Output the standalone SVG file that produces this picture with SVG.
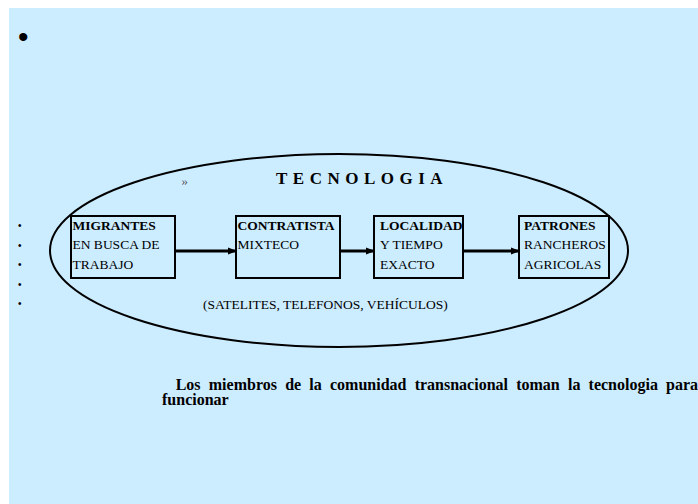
<svg xmlns="http://www.w3.org/2000/svg" width="698" height="504" viewBox="0 0 698 504">
<defs>
<style>
.bg{fill:#CCECFF}
.t{font-family:"Liberation Serif","Times New Roman",serif;fill:#000}
.b{font-weight:bold}
.box{fill:none;stroke:#000;stroke-width:2}
.lbl{font-size:13.5px}
.bul{font-family:"Liberation Sans",Arial,sans-serif;fill:#000}
.conn{stroke:#000;stroke-width:3;fill:none}
</style>
<marker id="ah" markerWidth="9" markerHeight="8" refX="8" refY="4" orient="auto" markerUnits="userSpaceOnUse">
<path d="M0,0.5 L9,4 L0,7.5 Z" fill="#000"/>
</marker>
</defs>
<rect class="bg" x="9" y="8" width="689" height="496"/>
<text class="bul" x="18" y="47" font-size="30">•</text>
<g class="bul" font-size="10">
<text x="18" y="229">•</text>
<text x="18" y="249">•</text>
<text x="18" y="268">•</text>
<text x="18" y="288">•</text>
<text x="18" y="307">•</text>
</g>
<g id="tecnologia">
<ellipse cx="339" cy="250.5" rx="289" ry="96.5" fill="none" stroke="#000" stroke-width="2"/>
<text class="t" x="181.5" y="184.5" font-size="13" style="fill:#555">»</text>
<text class="t b" x="276" y="184.3" font-size="17" letter-spacing="5.5">TECNOLOGIA</text>
<text class="t lbl" x="203" y="309">(SATELITES, TELEFONOS, VEHÍCULOS)</text>
</g>
<g id="connectors">
<line class="conn" x1="175" y1="251" x2="236" y2="251" marker-end="url(#ah)"/>
<line class="conn" x1="340" y1="251" x2="374" y2="251" marker-end="url(#ah)"/>
<line class="conn" x1="463" y1="251" x2="519" y2="251" marker-end="url(#ah)"/>
</g>
<g id="migrantes">
<rect class="box" x="71" y="216" width="104" height="62"/>
<text class="t lbl b" x="72.5" y="229.5">MIGRANTES</text>
<text class="t lbl" x="72.5" y="249">EN BUSCA DE</text>
<text class="t lbl" x="72.5" y="269">TRABAJO</text>
</g>
<g id="contratista">
<rect class="box" x="236" y="216" width="104" height="62"/>
<text class="t lbl b" x="237.5" y="229.5">CONTRATISTA</text>
<text class="t lbl" x="237.5" y="249">MIXTECO</text>
</g>
<g id="localidad">
<rect class="box" x="374" y="216" width="89" height="62"/>
<text class="t lbl b" x="380" y="229.5">LOCALIDAD</text>
<text class="t lbl" x="380" y="249">Y TIEMPO</text>
<text class="t lbl" x="380" y="269">EXACTO</text>
</g>
<g id="patrones">
<rect class="box" x="519" y="216" width="90" height="62"/>
<text class="t lbl b" x="524" y="229.5">PATRONES</text>
<text class="t lbl" x="524" y="249">RANCHEROS</text>
<text class="t lbl" x="524" y="269">AGRICOLAS</text>
</g>
<text class="t b" x="175.7" y="390" font-size="16" word-spacing="4.2">Los miembros de la comunidad transnacional toman la tecnologia para</text>
<text class="t b" x="162" y="405" font-size="16">funcionar</text>
</svg>
